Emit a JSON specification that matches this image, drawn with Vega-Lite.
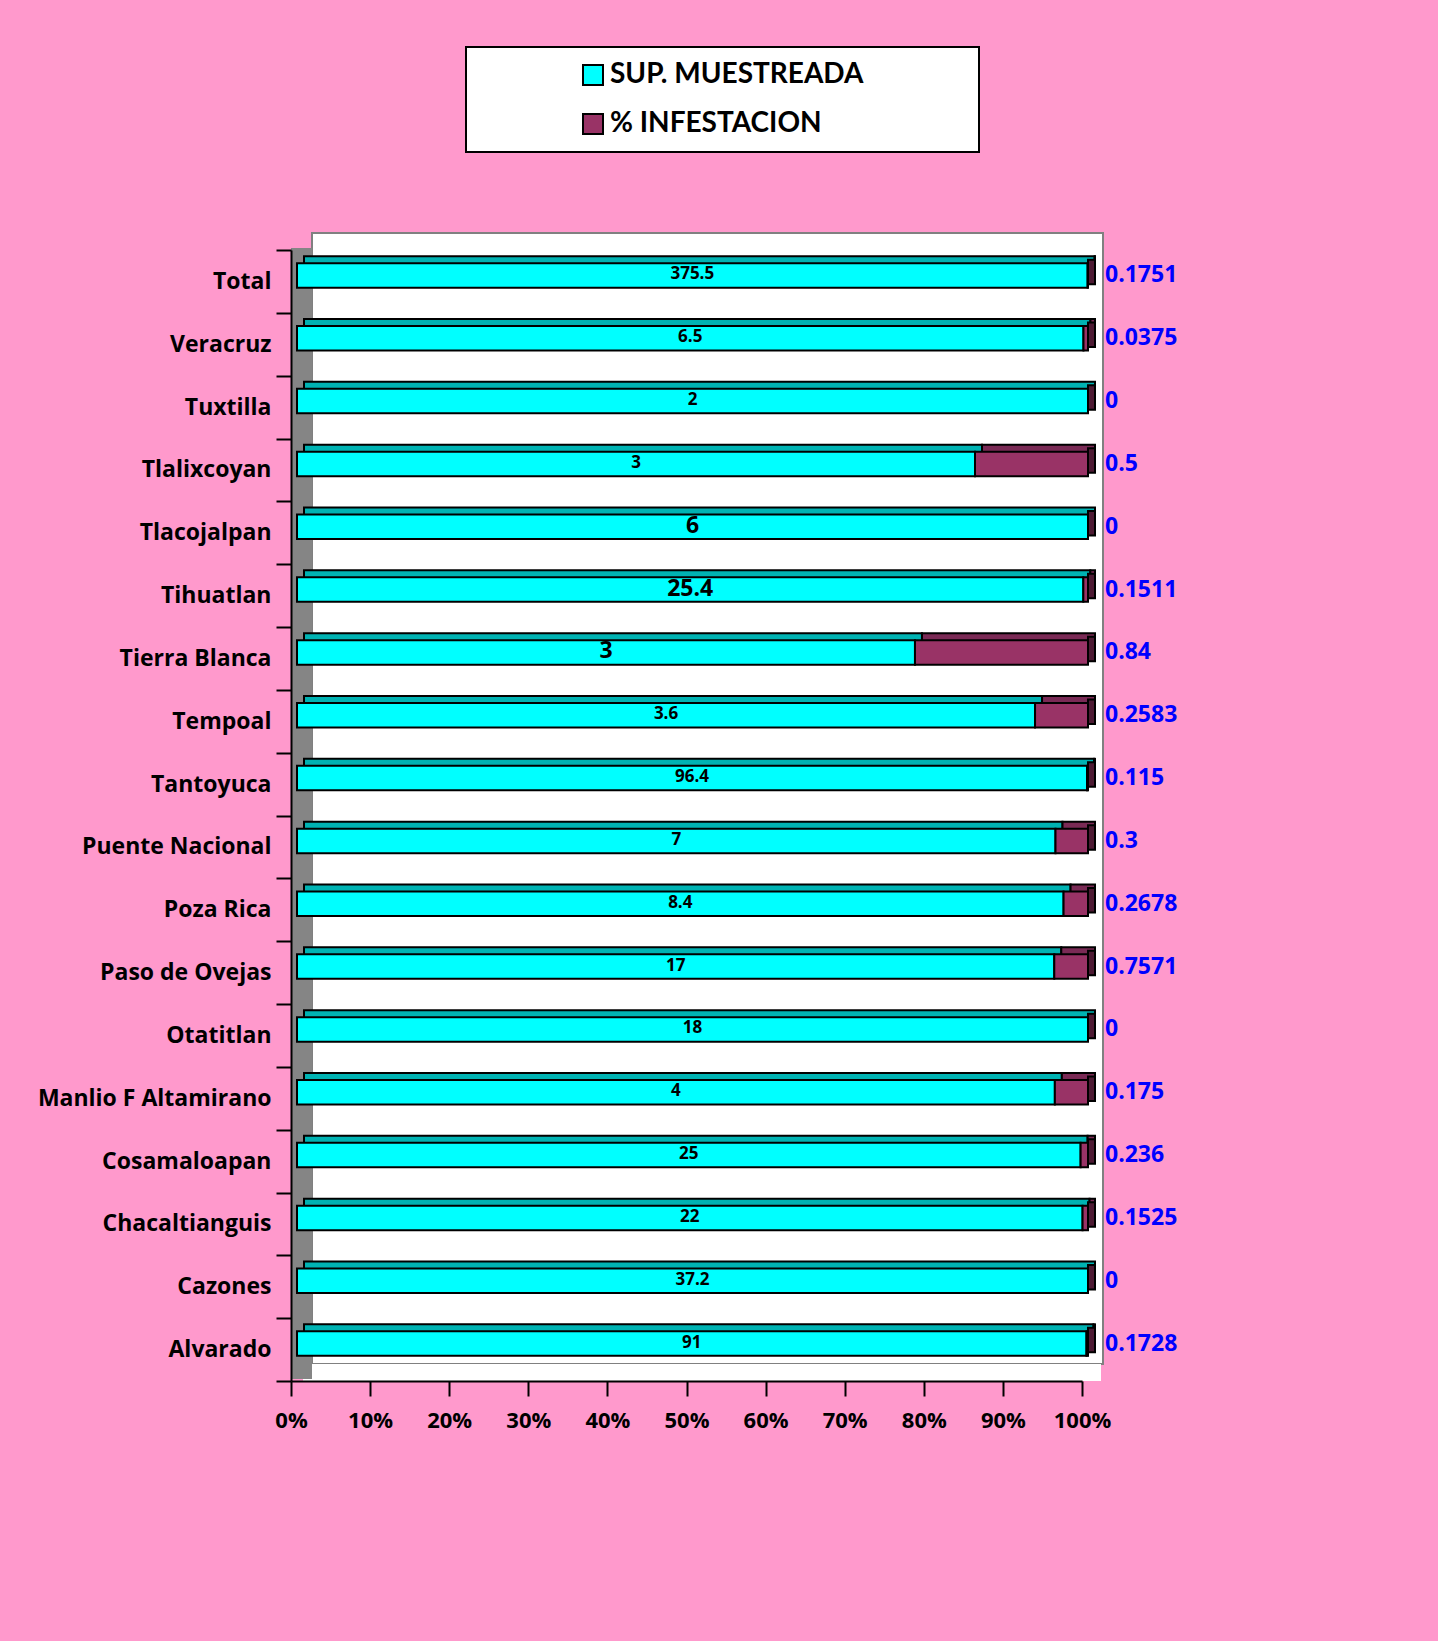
{
  "$schema": "https://vega.github.io/schema/vega-lite/v6.json",
  "width": 791,
  "height": 1131,
  "autosize": {"type": "none"},
  "padding": {"left": 312, "top": 233, "right": 335, "bottom": 277},
  "background": "#FF99CC",
  "config": {"view": {"fill": "white", "stroke": "#808080", "strokeWidth": 2}, "font": "Open Sans", "legend": {"strokeWidth": 2}},
  "data": {"values": [
    {"region": "Total", "sup": 375.5, "inf": 0.1751},
    {"region": "Veracruz", "sup": 6.5, "inf": 0.0375},
    {"region": "Tuxtilla", "sup": 2, "inf": 0},
    {"region": "Tlalixcoyan", "sup": 3, "inf": 0.5},
    {"region": "Tlacojalpan", "sup": 6, "inf": 0},
    {"region": "Tihuatlan", "sup": 25.4, "inf": 0.1511},
    {"region": "Tierra Blanca", "sup": 3, "inf": 0.84},
    {"region": "Tempoal", "sup": 3.6, "inf": 0.2583},
    {"region": "Tantoyuca", "sup": 96.4, "inf": 0.115},
    {"region": "Puente Nacional", "sup": 7, "inf": 0.3},
    {"region": "Poza Rica", "sup": 8.4, "inf": 0.2678},
    {"region": "Paso de Ovejas", "sup": 17, "inf": 0.7571},
    {"region": "Otatitlan", "sup": 18, "inf": 0},
    {"region": "Manlio F Altamirano", "sup": 4, "inf": 0.175},
    {"region": "Cosamaloapan", "sup": 25, "inf": 0.236},
    {"region": "Chacaltianguis", "sup": 22, "inf": 0.1525},
    {"region": "Cazones", "sup": 37.2, "inf": 0},
    {"region": "Alvarado", "sup": 91, "inf": 0.1728}
  ]},
  "layer": [
    {
      "mark": {"type": "rule", "color": "white", "strokeWidth": 17, "strokeCap": "square", "yOffset": 8.5, "y2Offset": 8.5, "xOffset": -10.5, "x2Offset": -10.5},
      "encoding": {"y": {"value": "height"}}
    },
    {
      "mark": {"type": "rule", "color": "#858585", "strokeWidth": 21, "xOffset": -10.5, "x2Offset": -10.5, "yOffset": 15, "y2Offset": 15},
      "encoding": {
        "x": {"datum": 0, "type": "quantitative", "axis": {"title": null, "format": "%", "values": [0,0.1,0.2,0.3,0.4,0.5,0.6,0.7,0.8,0.9,1], "grid": false, "offset": 17, "position": -21, "tickSize": 15, "tickWidth": 2, "tickColor": "black", "domainColor": "black", "domainWidth": 2, "labelFontSize": 22, "labelFontWeight": "bold", "labelColor": "black", "labelFont": "Open Sans", "labelPadding": 14, "labelFlush": false, "labelOverlap": false, "zindex": 1}},
        "y": {"value": 0},
        "y2": {"value": "height"}
      }
    },
    {
      "transform": [{"fold": ["sup", "inf"], "as": ["serie", "value"]}],
      "mark": {"type": "bar", "stroke": "black", "strokeWidth": 2, "xOffset": -8, "x2Offset": -8, "yOffset": 4, "y2Offset": 4, "height": {"band": 0.39}},
      "encoding": {
        "y": {"field": "region", "type": "nominal", "sort": null, "scale": {"type": "band", "paddingInner": 0, "paddingOuter": 0}, "axis": {"title": null, "offset": 21, "position": 17, "tickBand": "extent", "tickSize": 15, "tickWidth": 2, "tickColor": "black", "domainColor": "black", "domainWidth": 2, "labelFontSize": 23, "labelFontWeight": "bold", "labelColor": "black", "labelFont": "Open Sans", "labelPadding": 5, "zindex": 1, "labelLimit": 400}},
        "x": {"field": "value", "type": "quantitative", "stack": "normalize", "axis": {"title": null, "format": "%", "values": [0,0.1,0.2,0.3,0.4,0.5,0.6,0.7,0.8,0.9,1], "grid": false, "offset": 17, "position": -21, "tickSize": 15, "tickWidth": 2, "tickColor": "black", "domainColor": "black", "domainWidth": 2, "labelFontSize": 22, "labelFontWeight": "bold", "labelColor": "black", "labelFont": "Open Sans", "labelPadding": 14, "labelFlush": false, "labelOverlap": false, "zindex": 1}},
        "order": {"field": "serie", "sort": "descending"},
        "color": {"condition": {"test": "datum.serie === 'sup'", "value": "#00B3B3"}, "value": "#7A2A55"}
      }
    },
    {
      "mark": {"type": "bar", "color": "#4D1A33", "stroke": "black", "strokeWidth": 2, "xOffset": -15, "x2Offset": -8, "yOffset": 7.5, "y2Offset": 7.5, "height": {"band": 0.39}},
      "encoding": {
        "y": {"field": "region", "type": "nominal", "sort": null, "scale": {"type": "band", "paddingInner": 0, "paddingOuter": 0}, "axis": {"title": null, "offset": 21, "position": 17, "tickBand": "extent", "tickSize": 15, "tickWidth": 2, "tickColor": "black", "domainColor": "black", "domainWidth": 2, "labelFontSize": 23, "labelFontWeight": "bold", "labelColor": "black", "labelFont": "Open Sans", "labelPadding": 5, "zindex": 1, "labelLimit": 400}},
        "x": {"datum": 1, "type": "quantitative", "axis": {"title": null, "format": "%", "values": [0,0.1,0.2,0.3,0.4,0.5,0.6,0.7,0.8,0.9,1], "grid": false, "offset": 17, "position": -21, "tickSize": 15, "tickWidth": 2, "tickColor": "black", "domainColor": "black", "domainWidth": 2, "labelFontSize": 22, "labelFontWeight": "bold", "labelColor": "black", "labelFont": "Open Sans", "labelPadding": 14, "labelFlush": false, "labelOverlap": false, "zindex": 1}},
        "x2": {"datum": 1}
      }
    },
    {
      "transform": [{"fold": ["sup", "inf"], "as": ["serie", "value"]}],
      "mark": {"type": "bar", "stroke": "black", "strokeWidth": 2, "xOffset": -15, "x2Offset": -15, "yOffset": 11, "y2Offset": 11, "height": {"band": 0.39}},
      "encoding": {
        "y": {"field": "region", "type": "nominal", "sort": null, "scale": {"type": "band", "paddingInner": 0, "paddingOuter": 0}, "axis": {"title": null, "offset": 21, "position": 17, "tickBand": "extent", "tickSize": 15, "tickWidth": 2, "tickColor": "black", "domainColor": "black", "domainWidth": 2, "labelFontSize": 23, "labelFontWeight": "bold", "labelColor": "black", "labelFont": "Open Sans", "labelPadding": 5, "zindex": 1, "labelLimit": 400}},
        "x": {"field": "value", "type": "quantitative", "stack": "normalize", "axis": {"title": null, "format": "%", "values": [0,0.1,0.2,0.3,0.4,0.5,0.6,0.7,0.8,0.9,1], "grid": false, "offset": 17, "position": -21, "tickSize": 15, "tickWidth": 2, "tickColor": "black", "domainColor": "black", "domainWidth": 2, "labelFontSize": 22, "labelFontWeight": "bold", "labelColor": "black", "labelFont": "Open Sans", "labelPadding": 14, "labelFlush": false, "labelOverlap": false, "zindex": 1}},
        "order": {"field": "serie", "sort": "descending"},
        "color": {
          "field": "serie", "type": "nominal",
          "scale": {"domain": ["sup", "inf"], "range": ["#00FFFF", "#993366"]},
          "legend": {
            "orient": "none", "legendX": 154, "legendY": -186, "title": null,
            "fillColor": "white", "strokeColor": "black", "padding": 14,
            "symbolType": "square", "symbolSize": 400, "symbolStrokeColor": "black", "symbolStrokeWidth": 2, "symbolOffset": 99,
            "labelFontSize": 28, "labelFontWeight": "bold", "labelFont": "Lato", "labelColor": "black", "labelOffset": 3, "rowPadding": 21, "labelLimit": 800,
            "labelExpr": "datum.value === 'sup' ? 'SUP. MUESTREADA\u00a0\u00a0\u00a0\u00a0\u00a0\u00a0\u00a0\u00a0\u00a0\u00a0\u00a0\u00a0\u00a0\u00a0\u00a0\u200b' : '% INFESTACION'"
          }
        }
      }
    },
    {
      "transform": [{"fold": ["sup", "inf"], "as": ["serie", "value"]}],
      "mark": {"type": "text", "color": "black", "fontWeight": "bold", "font": "Open Sans", "xOffset": -15, "yOffset": 10},
      "encoding": {
        "y": {"field": "region", "type": "nominal", "sort": null, "scale": {"type": "band", "paddingInner": 0, "paddingOuter": 0}, "axis": {"title": null, "offset": 21, "position": 17, "tickBand": "extent", "tickSize": 15, "tickWidth": 2, "tickColor": "black", "domainColor": "black", "domainWidth": 2, "labelFontSize": 23, "labelFontWeight": "bold", "labelColor": "black", "labelFont": "Open Sans", "labelPadding": 5, "zindex": 1, "labelLimit": 400}},
        "x": {"field": "value", "type": "quantitative", "stack": "normalize", "bandPosition": 0.5, "axis": {"title": null, "format": "%", "values": [0,0.1,0.2,0.3,0.4,0.5,0.6,0.7,0.8,0.9,1], "grid": false, "offset": 17, "position": -21, "tickSize": 15, "tickWidth": 2, "tickColor": "black", "domainColor": "black", "domainWidth": 2, "labelFontSize": 22, "labelFontWeight": "bold", "labelColor": "black", "labelFont": "Open Sans", "labelPadding": 14, "labelFlush": false, "labelOverlap": false, "zindex": 1}},
        "order": {"field": "serie", "sort": "descending"},
        "text": {"condition": {"test": "datum.serie === 'sup'", "field": "value", "type": "nominal"}, "value": ""},
        "size": {"condition": {"test": "indexof(['Tlacojalpan','Tihuatlan','Tierra Blanca'], datum.region) >= 0", "value": 23}, "value": 17}
      }
    },
    {
      "mark": {"type": "text", "color": "#0000FF", "fontWeight": "bold", "font": "Open Sans", "fontSize": 23, "align": "left", "dx": 2, "yOffset": 11},
      "encoding": {
        "y": {"field": "region", "type": "nominal", "sort": null, "scale": {"type": "band", "paddingInner": 0, "paddingOuter": 0}, "axis": {"title": null, "offset": 21, "position": 17, "tickBand": "extent", "tickSize": 15, "tickWidth": 2, "tickColor": "black", "domainColor": "black", "domainWidth": 2, "labelFontSize": 23, "labelFontWeight": "bold", "labelColor": "black", "labelFont": "Open Sans", "labelPadding": 5, "zindex": 1, "labelLimit": 400}},
        "x": {"datum": 1, "type": "quantitative", "axis": {"title": null, "format": "%", "values": [0,0.1,0.2,0.3,0.4,0.5,0.6,0.7,0.8,0.9,1], "grid": false, "offset": 17, "position": -21, "tickSize": 15, "tickWidth": 2, "tickColor": "black", "domainColor": "black", "domainWidth": 2, "labelFontSize": 22, "labelFontWeight": "bold", "labelColor": "black", "labelFont": "Open Sans", "labelPadding": 14, "labelFlush": false, "labelOverlap": false, "zindex": 1}},
        "text": {"field": "inf", "type": "nominal"}
      }
    }
  ]
}
